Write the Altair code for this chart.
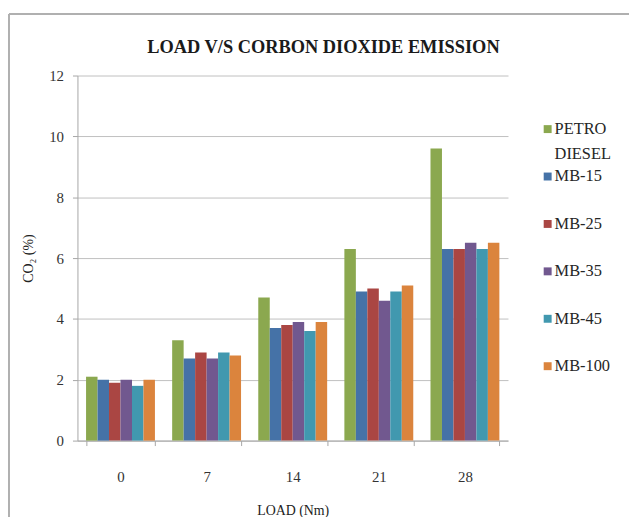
import altair as alt
import pandas as pd

title_text = "LOAD V/S CORBON DIOXIDE EMISSION"
loads = ["0", "7", "14", "21", "28"]
series = ["PETRO DIESEL", "MB-15", "MB-25", "MB-35", "MB-45", "MB-100"]
colors = ["#8BA84F", "#4572A7", "#AA4643", "#71588F", "#4198AF", "#DB843D"]

petro_diesel = [2.1, 3.3, 4.7, 6.3, 9.6]
mb15 = [2.0, 2.7, 3.7, 4.9, 6.3]
mb25 = [1.9, 2.9, 3.8, 5.0, 6.3]
mb35 = [2.0, 2.7, 3.9, 4.6, 6.5]
mb45 = [1.8, 2.9, 3.6, 4.9, 6.3]
mb100 = [2.0, 2.8, 3.9, 5.1, 6.5]

values = [petro_diesel, mb15, mb25, mb35, mb45, mb100]
rows = []
for s, vals in zip(series, values):
    for l, v in zip(loads, vals):
        rows.append({"load": l, "series": s, "value": v})
df = pd.DataFrame(rows)
leg_df = pd.DataFrame({"series": series})
one = pd.DataFrame({"a": [0]})
title_df = pd.DataFrame({"t": [title_text]})

W, H = 434, 368
serif = "Liberation Serif"
color_scale = alt.Scale(domain=series, range=colors)

bars = alt.Chart(df).mark_bar().encode(
    x=alt.X("load:N", sort=loads,
            scale=alt.Scale(paddingInner=0.2, paddingOuter=0.1),
            axis=alt.Axis(title="LOAD (Nm)", labelAngle=0, tickBand="extent",
                          labelFont=serif, labelFontSize=15, labelColor="#333333",
                          labelPadding=24, titleFont=serif, titleFontSize=14,
                          titleFontWeight="normal", titleColor="#222222", titlePadding=19,
                          domainColor="#a6a6a6", tickColor="#a6a6a6", tickSize=5, grid=False)),
    xOffset=alt.XOffset("series:N", sort=series,
                        scale=alt.Scale(paddingInner=0, paddingOuter=0)),
    y=alt.Y("value:Q", scale=alt.Scale(domain=[0, 12]),
            axis=alt.Axis(title="CO₂ (%)", values=[0, 2, 4, 6, 8, 10, 12], grid=True,
                          gridColor="#bfbfbf", domainColor="#a6a6a6", tickColor="#a6a6a6",
                          tickSize=5, labelFont=serif, labelFontSize=15, labelColor="#333333",
                          labelPadding=9, titleFont=serif, titleFontSize=14,
                          titleFontWeight="normal", titleColor="#222222", titlePadding=13)),
    color=alt.Color("series:N", sort=series, scale=color_scale, legend=None),
)

leg_y = alt.Y("series:N", sort=series,
              scale=alt.Scale(domain=series, range=[54, 293], padding=0), axis=None)

leg_sq = alt.Chart(leg_df).mark_square(size=64, opacity=1).encode(
    x=alt.value(474), y=leg_y,
    color=alt.Color("series:N", sort=series, scale=color_scale, legend=None),
)
leg_t1 = alt.Chart(leg_df).transform_calculate(
    line1="split(datum.series, ' ')[0]"
).mark_text(align="left", baseline="middle", font=serif, fontSize=16.5, color="#262626").encode(
    x=alt.value(481), y=leg_y, text="line1:N"
)
leg_t2 = alt.Chart(leg_df).transform_calculate(
    line2="length(split(datum.series, ' ')) > 1 ? split(datum.series, ' ')[1] : ''"
).mark_text(align="left", baseline="middle", font=serif, fontSize=16.5, color="#262626", dy=25).encode(
    x=alt.value(481), y=leg_y, text="line2:N"
)

title_mark = alt.Chart(title_df).mark_text(
    align="center", baseline="middle", font=serif, fontSize=18.5, fontWeight="bold", color="#1a1a1a"
).encode(x=alt.value(248), y=alt.value(-29), text="t:N")

frame_left = alt.Chart(one).mark_rule(color="#b0b0b0", strokeWidth=2).encode(
    x=alt.value(-69), y=alt.value(-62), y2=alt.value(450)
)
frame_top = alt.Chart(one).mark_rule(color="#b0b0b0", strokeWidth=2).encode(
    x=alt.value(-69), x2=alt.value(556), y=alt.value(-62)
)

chart = alt.layer(frame_left, frame_top, title_mark, bars, leg_sq, leg_t1, leg_t2).resolve_scale(
    y="independent"
).properties(
    width=W, height=H,
    padding={"left": 0, "top": 3, "right": 0, "bottom": 0},
).configure_view(stroke=None)

chart.save("out.html", embed_options={"renderer": "svg", "actions": False})
